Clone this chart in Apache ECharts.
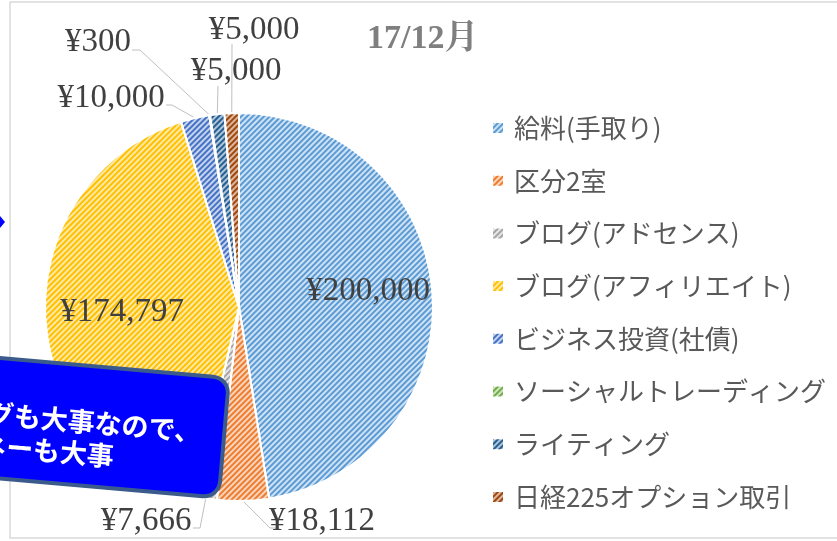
<!DOCTYPE html>
<html lang="ja">
<head>
    <meta charset="UTF-8">
    <title>17/12月</title>
    <script src="https://cdn.jsdelivr.net/npm/echarts@6/dist/echarts.min.js"></script>
    <style>
        html, body { margin: 0; padding: 0; background: #fff; }
        #chart { width: 837px; height: 541px; }
    </style>
</head>
<body>
    <div id="chart"></div>
    <script>
        // 収入の内訳 (17/12月)
        const categories = ['給料(手取り)', '区分2室', 'ブログ(アドセンス)', 'ブログ(アフィリエイト)',
            'ビジネス投資(社債)', 'ソーシャルトレーディング', 'ライティング', '日経225オプション取引'];
        const amounts = [200000, 18112, 7666, 174797, 10000, 300, 5000, 5000];
        const stripeColors = ['#5B9BD5', '#ED7D31', '#A5A5A5', '#FFC000', '#4472C4', '#70AD47', '#255E91', '#9E480E'];
        const fillColors = ['#CFE2F3', '#FAD5BB', '#E6E6E6', '#FFE9A6', '#C6D3EE', '#D0E4C2', '#AFC5DA', '#DDB7A0'];

        // ラベルの配置 (Excelで手動で動かした位置に合わせる)
        // 中心x, 中心y, 引き出し線の折れ点と終点
        const labelPlaces = [
            { x: 368, y: 291 },
            { x: 322, y: 521, line: [[270, 528], [276, 528]] },
            { x: 146, y: 521, line: [[200, 528], [193, 528]] },
            { x: 122, y: 312 },
            { x: 111, y: 98, line: [[172, 105], [166, 105]] },
            { x: 98, y: 42, line: [[140, 50], [132, 50]] },
            { x: 236, y: 71, line: [[218, 86]] },
            { x: 254, y: 30, line: [[232, 44]] }
        ];

        const yen = v => '¥' + v.toLocaleString('en-US');

        const chart = echarts.init(document.getElementById('chart'));

        const option = {
            animation: false,
            title: {
                text: '17/12月',
                left: 362,
                top: 17,
                textStyle: {
                    fontFamily: '"Liberation Serif", "Noto Serif CJK JP", serif',
                    fontSize: 34,
                    fontWeight: 'bold',
                    color: '#7F7F7F'
                }
            },
            legend: {
                orient: 'vertical',
                left: 486,
                top: 108,
                itemWidth: 12,
                itemHeight: 12,
                itemGap: 22.7,
                icon: 'rect',
                textStyle: {
                    fontFamily: '"Noto Sans CJK JP", sans-serif',
                    fontSize: 26,
                    lineHeight: 30,
                    color: '#595959',
                    padding: [0, 0, 0, 5]
                },
                data: categories
            },
            series: [{
                type: 'pie',
                center: [239, 307],
                radius: 194,
                startAngle: 90,
                avoidLabelOverlap: false,
                itemStyle: {
                    borderColor: '#fff',
                    borderWidth: 2
                },
                label: {
                    show: true,
                    position: 'outside',
                    formatter: p => yen(p.value),
                    fontFamily: '"Liberation Serif", serif',
                    fontSize: 33,
                    color: '#404040'
                },
                labelLine: {
                    show: true,
                    length: 20,
                    length2: 10,
                    lineStyle: { color: '#BFBFBF', width: 1 }
                },
                labelLayout: function (params) {
                    const p = labelPlaces[params.dataIndex];
                    const out = {
                        x: p.x,
                        y: p.y,
                        align: 'center',
                        verticalAlign: 'middle',
                        hideOverlap: false,
                        moveOverlap: false
                    };
                    if (p.line && params.labelLinePoints) {
                        out.labelLinePoints = [params.labelLinePoints[0]].concat(p.line);
                    }
                    return out;
                },
                data: categories.map((name, i) => ({
                    name: name,
                    value: amounts[i],
                    itemStyle: {
                        color: fillColors[i],
                        decal: {
                            symbol: 'rect',
                            symbolSize: 1,
                            color: stripeColors[i],
                            dashArrayX: [1, 0],
                            dashArrayY: [2, 2],
                            rotation: -Math.PI / 4
                        }
                    },
                    labelLine: { show: !!labelPlaces[i].line }
                }))
            }],
            graphic: [
                {
                    type: 'rect',
                    z: 100,
                    shape: { x: 10, y: 2, width: 840, height: 536 },
                    style: { fill: 'none', stroke: '#D9D9D9', lineWidth: 1.5 },
                    silent: true
                },
                {
                    type: 'polygon',
                    z: 100,
                    shape: { points: [[0, 216], [5, 222], [0, 228]] },
                    style: { fill: '#0000FF' }
                },
                {
                    type: 'group',
                    z: 100,
                    x: 0,
                    y: 358,
                    rotation: -5 * Math.PI / 180,
                    children: [
                        {
                            type: 'rect',
                            z: 100,
                            shape: { x: -300, y: 0, width: 530, height: 120, r: 16 },
                            style: { fill: '#0000FF', stroke: '#3B5B8C', lineWidth: 4 }
                        },
                        {
                            type: 'text',
                            z: 101,
                            x: -62,
                            y: 56,
                            style: {
                                text: 'ブログも大事なので、',
                                fontFamily: '"Noto Sans CJK JP", sans-serif',
                                fontWeight: 'bold',
                                fontSize: 27,
                                fill: '#fff',
                                verticalAlign: 'middle'
                            }
                        },
                        {
                            type: 'text',
                            z: 101,
                            x: -40,
                            y: 88,
                            style: {
                                text: 'マネーも大事',
                                fontFamily: '"Noto Sans CJK JP", sans-serif',
                                fontWeight: 'bold',
                                fontSize: 27,
                                fill: '#fff',
                                verticalAlign: 'middle'
                            }
                        }
                    ]
                }
            ]
        };

        chart.setOption(option);
    </script>
</body>
</html>
